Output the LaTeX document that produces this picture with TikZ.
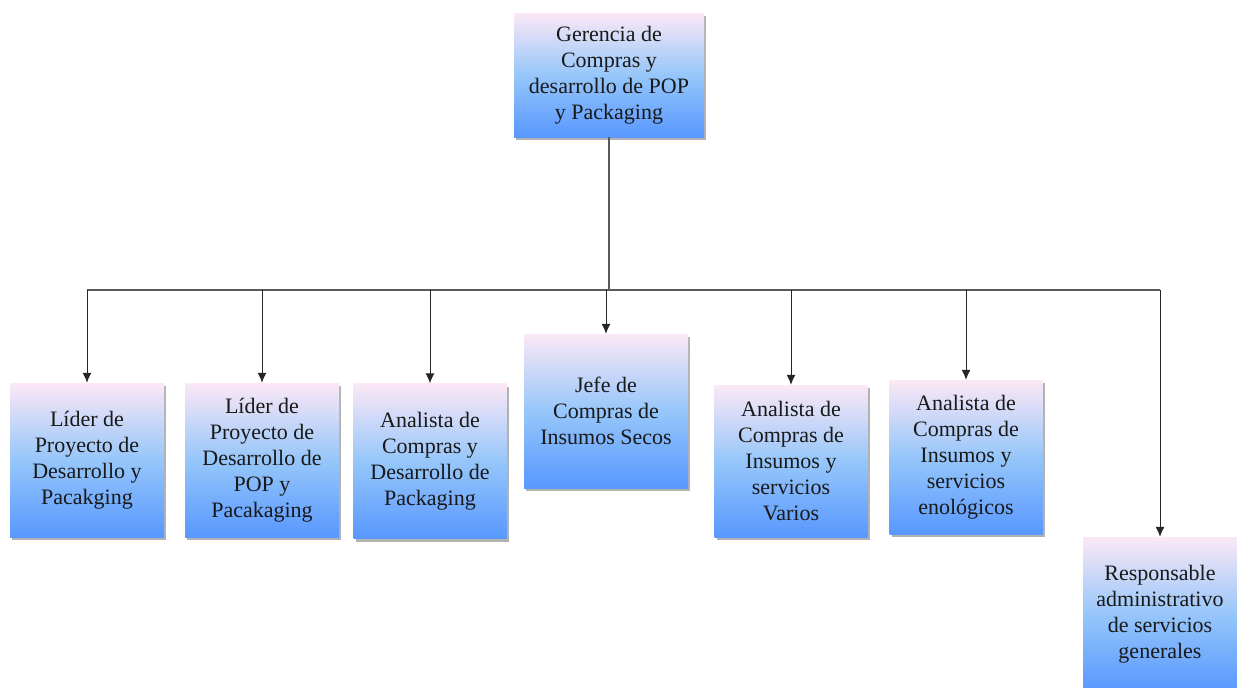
\documentclass[tikz,border=0pt]{standalone}
\usepackage{fontspec}
\setmainfont{Liberation Serif}
\usetikzlibrary{arrows.meta,shadows}
\definecolor{boxtop}{RGB}{252,232,246}
\definecolor{boxmid}{RGB}{150,198,250}
\definecolor{boxbot}{RGB}{88,152,255}
\begin{document}
\begin{tikzpicture}[x=1pt, y=-1pt,
	cargo/.style={rectangle, top color=boxtop, bottom color=boxbot, middle color=boxmid, minimum width=154pt, minimum height=154pt, align=center, inner sep=2pt, text=black!90, font=\fontsize{22}{26}\selectfont, drop shadow={shadow xshift=2pt, shadow yshift=-3pt, opacity=0.3, fill=black}},
	bus/.style={black!65, line width=1.2pt},
	>={Latex[length=10pt, width=9pt]}]
	\useasboundingbox (0,0) rectangle (1237,688);
	\node[cargo, minimum width=190pt, minimum height=124pt] (ger) at (609,75) {Gerencia de\\Compras y\\desarrollo de POP\\y Packaging};
	\node[cargo] (lider1) at (87,460) {Líder de\\Proyecto de\\Desarrollo y\\Pacakging};
	\node[cargo] (lider2) at (262,460) {Líder de\\Proyecto de\\Desarrollo de\\POP y\\Pacakaging};
	\node[cargo, minimum width=153pt, minimum height=155pt] (anal1) at (430,461) {Analista de\\Compras y\\Desarrollo de\\Packaging};
	\node[cargo, minimum width=164pt] (jefe) at (606,411) {Jefe de\\Compras de\\Insumos Secos};
	\node[cargo, minimum width=153pt, minimum height=152pt] (anal2) at (791,461) {Analista de\\Compras de\\Insumos y\\servicios\\Varios};
	\node[cargo, minimum width=153pt] (anal3) at (966,457) {Analista de\\Compras de\\Insumos y\\servicios\\enológicos};
	\node[cargo] (resp) at (1160,614) {Responsable\\administrativo\\de servicios\\generales};
	\coordinate (split) at (609,290);
	\draw[bus] (ger.south) -- (split);
	\draw[bus] (lider1 |- split) -- (resp |- split);
	\foreach \n in {lider1,lider2,anal1,jefe,anal2,anal3,resp}
		\draw[black!85, line width=1pt, ->] (\n |- split) -- (\n.north);
\end{tikzpicture}
\end{document}
